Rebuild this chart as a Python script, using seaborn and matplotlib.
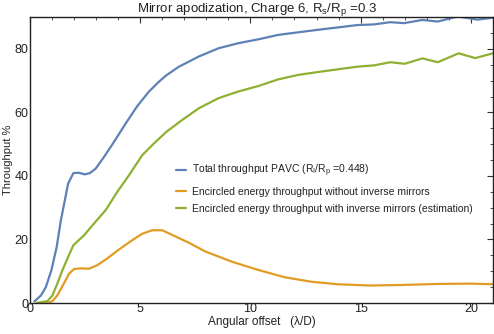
import numpy as np
import pandas as pd
import matplotlib
matplotlib.use("Agg")
import matplotlib.pyplot as plt
import seaborn as sns
from matplotlib.ticker import MultipleLocator

sns.set_style("white")
plt.rcParams['font.family'] = ['Liberation Sans', 'DejaVu Sans']
plt.rcParams['mathtext.fontset'] = 'custom'
plt.rcParams['mathtext.rm'] = 'Liberation Sans'

blue_x = [0.2, 0.5, 0.72, 0.97, 1.21, 1.4, 1.58, 1.73, 1.97, 2.22, 2.48, 2.72, 2.98, 3.36, 3.81, 4.34,
          4.87, 5.39, 5.84, 6.19, 6.76, 7.66, 8.56, 9.46, 10.36, 11.26, 12.16, 13.06, 13.9, 14.86,
          15.6, 16.35, 16.97, 17.8, 18.5, 19.4, 20.3, 21.0]
blue_y = [0.5, 2.4, 5.0, 10.3, 17.6, 26, 32.3, 37.6, 40.9, 41.0, 40.5, 40.9, 42.3, 46, 50.7, 56.5,
          62, 66.5, 69.6, 71.7, 74.4, 77.6, 80.2, 81.8, 83.0, 84.4, 85.2, 86, 86.7, 87.5,
          87.7, 88.4, 88.1, 89.1, 88.6, 90.2, 89.2, 89.8]

orange_x = [0.3, 0.8, 1.02, 1.24, 1.55, 1.77, 2.0, 2.3, 2.68, 3.05, 3.5, 4.03, 4.56, 5.09, 5.54,
            6.0, 6.46, 7.2, 7.96, 9.16, 10.36, 11.56, 12.76, 13.96, 15.46, 16.97, 18.47, 19.96, 21.0]
orange_y = [0, 0, 0.6, 2.4, 6.3, 9.2, 10.7, 10.9, 10.8, 11.9, 14, 16.8, 19.4, 21.8, 22.9,
            22.9, 21.4, 19.0, 16.2, 13.0, 10.4, 8.1, 6.7, 5.9, 5.5, 5.7, 6.0, 6.1, 5.9]

green_x = [0.3, 0.79, 1.02, 1.24, 1.47, 1.73, 1.97, 2.45, 2.9, 3.43, 3.96, 4.49, 5.09, 5.62, 6.19,
           6.9, 7.66, 8.56, 9.46, 10.36, 11.26, 12.16, 13.06, 13.9, 14.86, 15.6, 16.35, 17.0,
           17.8, 18.5, 19.45, 20.2, 21.0]
green_y = [0, 0.6, 2.4, 6.1, 10.3, 14.5, 18.2, 21.3, 25, 29.2, 35, 40.2, 46.5, 50.2, 53.9,
           57.6, 61.3, 64.5, 66.6, 68.3, 70.4, 71.8, 72.7, 73.5, 74.4, 74.8, 75.8, 75.3,
           77.0, 75.8, 78.6, 77.1, 78.6]

labels = [
    r"Total throughput PAVC (R$_\mathrm{I}$/R$_\mathrm{p}$ =0.448)",
    "Encircled energy throughput without inverse mirrors",
    "Encircled energy throughput with inverse mirrors (estimation)",
]
colors = ["#5E81B5", "#E19C24", "#8FB032"]

df = pd.concat([
    pd.DataFrame({"x": blue_x, "y": blue_y, "series": labels[0]}),
    pd.DataFrame({"x": orange_x, "y": orange_y, "series": labels[1]}),
    pd.DataFrame({"x": green_x, "y": green_y, "series": labels[2]}),
], ignore_index=True)

fig = plt.figure(figsize=(4.94, 3.34), dpi=100)
ax = fig.add_axes([0.0607, 0.0928, 0.937, 0.856])
sns.lineplot(data=df, x="x", y="y", hue="series", palette=dict(zip(labels, colors)),
             sort=False, estimator=None, linewidth=1.6, ax=ax)

ax.set_xlim(0, 21)
ax.set_ylim(0, 90)
ax.xaxis.set_major_locator(MultipleLocator(5))
ax.xaxis.set_minor_locator(MultipleLocator(1))
ax.yaxis.set_major_locator(MultipleLocator(20))
ax.yaxis.set_minor_locator(MultipleLocator(5))
ax.tick_params(which='both', direction='in', top=True, right=True, labelsize=9, color='#333333',
               labelcolor='#222222')
ax.tick_params(which='major', length=4, width=0.8)
ax.tick_params(which='minor', length=2, width=0.6)
ax.tick_params(axis='x', pad=0)
ax.tick_params(axis='y', pad=1)
for s in ax.spines.values():
    s.set_color('#222222')
    s.set_linewidth(1.0)

ax.set_xlabel("Angular offset   (λ/D)", fontsize=8.5, labelpad=1, color='#222222')
ax.set_ylabel("Throughput %", fontsize=8, color='#222222')
ax.yaxis.set_label_coords(-0.037, 0.5)
ax.set_title(r"Mirror apodization, Charge 6, R$_\mathrm{s}$/R$_\mathrm{p}$ =0.3", fontsize=9.5, pad=4,
             color='#222222', x=0.49)

leg = ax.legend(loc='upper left', bbox_to_anchor=(0.3, 0.515), frameon=False, fontsize=7.5,
                handlelength=0.9, handletextpad=0.6, labelspacing=0.7, borderaxespad=0.3)
for t in leg.get_texts():
    t.set_color('#222222')

fig.savefig("out.png", dpi=100)
